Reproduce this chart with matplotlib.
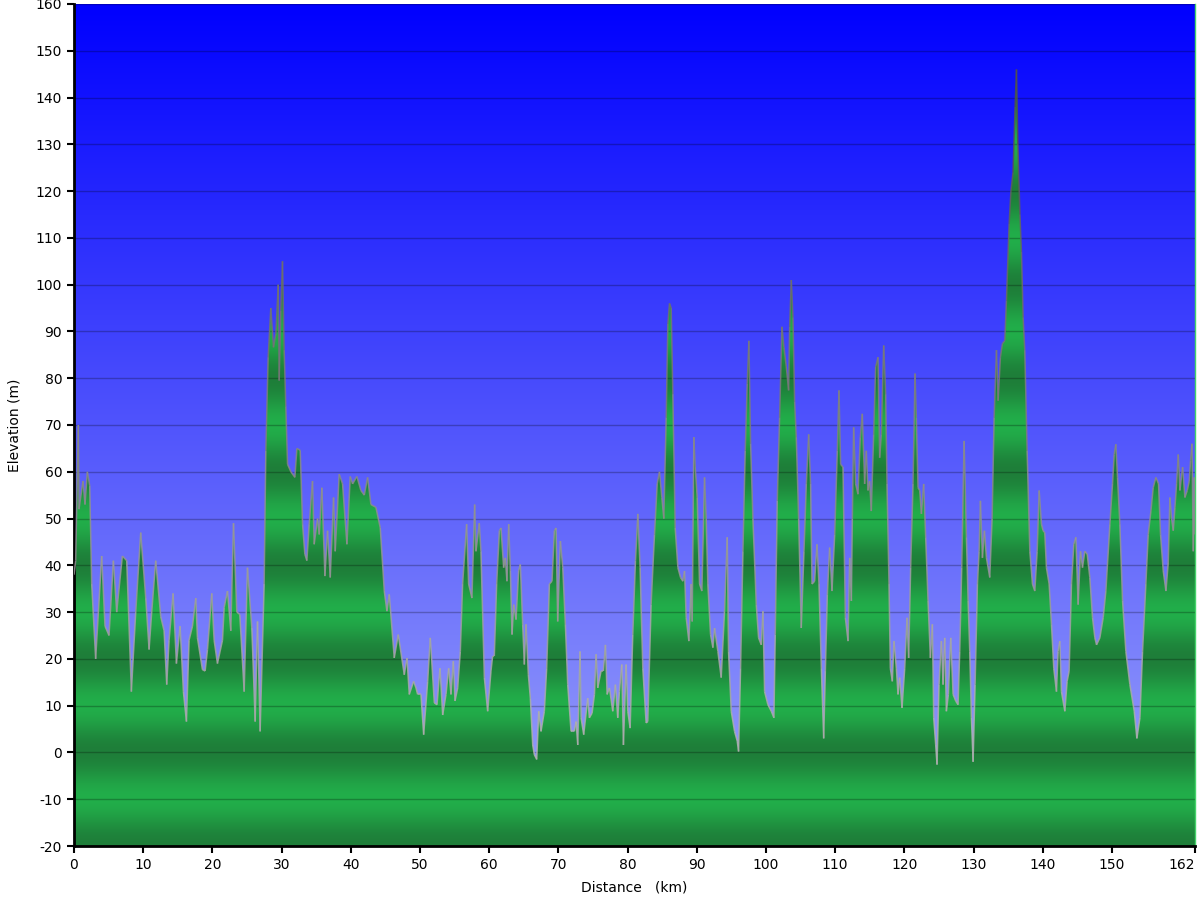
import matplotlib.pyplot as plt
import numpy as np
from matplotlib.patches import Polygon
from matplotlib.collections import LineCollection

plt.rcParams['axes.unicode_minus'] = False

# elevation profile (km, m)
distance_km = [
    0, 0.24, 0.63, 0.72, 1.30, 1.59, 1.93, 2.27, 2.56, 3.13, 4.0, 4.48, 5.06, 5.69, 6.17, 6.99,
    7.62, 8.29, 8.92, 9.64, 10.37, 10.85, 11.23, 11.81, 12.54, 13.02, 13.40, 13.74, 14.32, 14.80,
    15.33, 15.81, 16.25, 16.63, 17.12, 17.60, 17.84, 18.56, 18.95, 19.29, 19.91, 20.25, 20.73,
    21.46, 21.70, 22.18, 22.66, 23.05, 23.53, 23.96, 24.59, 25.07, 25.70, 26.18, 26.52, 26.90,
    27.48, 27.72, 28.06, 28.44, 28.83, 29.17, 29.51, 29.65, 29.89, 30.13, 30.37, 30.61, 30.86,
    31.34, 31.92, 32.21, 32.69, 33.03, 33.36, 33.65, 33.99, 34.47, 34.71, 35.19, 35.44, 35.82,
    36.26, 36.64, 37.03, 37.51, 37.75, 38.33, 38.81, 39.44, 39.92, 40.26, 40.88, 41.46, 41.95,
    42.43, 42.91, 43.63, 44.26, 44.84, 45.22, 45.56, 46.28, 46.86, 47.73, 48.12, 48.45, 49.08,
    49.42, 49.66, 50.14, 50.53, 51.11, 51.49, 52.07, 52.46, 52.89, 53.28, 53.76, 54.14, 54.48,
    54.82, 55.06, 55.45, 55.83,
    56.16, 56.74, 57.03, 57.51, 57.90, 58.09, 58.57, 58.81, 59.30, 59.78, 60.26, 60.50, 60.74,
    61.08, 61.47, 61.71, 62.09, 62.33, 62.57, 62.82, 63.06, 63.30, 63.54, 63.88, 64.26, 64.50,
    64.84, 65.08, 65.32, 65.66, 65.95, 66.29, 66.53, 66.87, 67.16, 67.49, 67.97, 68.31, 68.70,
    69.08, 69.42, 69.66, 69.90, 70.29, 70.63, 71.01, 71.35, 71.83, 72.31, 72.56, 72.80, 73.13,
    73.28, 73.66, 74.24, 74.48, 74.87, 75.21, 75.45, 75.69, 76.17, 76.51, 76.80, 77.04, 77.38,
    77.86, 78.24, 78.58, 78.82, 79.16, 79.40, 79.79, 80.03, 80.37, 80.75, 81.14, 81.48, 81.81,
    82.20, 82.68, 82.92, 83.40, 83.89,
    84.28, 84.61, 84.95, 85.24, 85.58, 85.82, 86.06, 86.30, 86.54, 86.88, 87.27, 87.65, 87.99,
    88.23, 88.47, 88.86, 89.19, 89.34, 89.58, 89.77, 90.06, 90.40, 90.74, 91.12, 91.36, 91.60,
    91.99, 92.33, 92.57, 93.05, 93.53, 94.01, 94.40, 94.59, 94.98, 95.46, 95.85, 96.04, 96.33,
    96.67, 97.00, 97.29, 97.53, 97.78, 98.11, 98.60, 98.93, 99.32, 99.56, 99.80, 100.28, 100.77,
    101.15, 101.34, 101.63, 101.97, 102.31, 102.60, 102.94, 103.27, 103.42, 103.66, 103.90,
    104.14, 104.38, 104.72, 105.10, 105.49, 105.83, 106.17, 106.45, 106.65, 107.03, 107.37,
    107.66, 108.0, 108.34, 108.58, 108.87, 109.20, 109.54, 109.93, 110.31, 110.55, 110.79,
    111.13, 111.47, 111.86, 112.10, 112.34,
    112.48, 112.67, 112.96, 113.30, 113.63, 113.92, 114.26, 114.50, 114.74, 114.98, 115.22,
    115.56, 115.85, 116.19, 116.43, 116.67, 117.01, 117.30, 117.49, 117.78, 117.97, 118.26,
    118.50, 118.84, 119.08, 119.32, 119.66, 120.05, 120.38, 120.62, 120.91, 121.25, 121.54,
    121.73, 121.97, 122.22, 122.46, 122.79, 123.08, 123.42, 123.76, 124.05, 124.24, 124.53,
    124.72, 125.01, 125.35, 125.59, 125.83, 126.07, 126.36, 126.70, 127.04, 127.42, 127.76,
    128.0, 128.29, 128.63, 128.97, 129.21, 129.45, 129.69, 129.93, 130.22, 130.56, 130.80,
    130.99, 131.28, 131.57, 131.86, 132.34, 132.68, 132.97, 133.31, 133.55, 133.88, 134.17,
    134.51, 134.75, 135.14, 135.4, 135.7, 136.0, 136.2, 136.4, 136.7, 136.92, 137.16, 137.40,
    137.74, 138.13, 138.51, 138.85, 139.19, 139.48,
    139.81, 140.05, 140.29, 140.53, 140.92, 141.26, 141.59, 141.98, 142.22, 142.46, 142.70,
    143.19, 143.52, 143.81, 144.15, 144.49, 144.78, 145.11, 145.45, 145.74, 146.08, 146.42,
    146.80, 147.19, 147.53, 147.77, 148.25, 148.73, 149.12, 149.70, 150.08, 150.32, 150.56,
    150.80, 151.14, 151.53, 152.01, 152.59, 153.22, 153.60, 154.04, 154.42, 154.90, 155.24,
    155.63, 155.96, 156.35, 156.73, 157.02, 157.41, 157.80, 158.13, 158.37, 158.62, 158.86,
    159.10, 159.34, 159.58, 159.82, 160.21, 160.54, 160.88, 161.17, 161.36, 161.56, 161.75,
    161.89, 162.0,
]
elevation_m = [
    38, 41, 70, 52, 58, 53, 60, 57, 36, 20, 42, 27, 25, 41, 30, 42,
    41, 13, 30, 47, 33, 22, 30, 41, 29, 26, 14.5, 24, 34, 19,
    27, 13, 6.6, 24, 27, 33, 24.5, 17.7, 17.4, 22, 34, 24, 19,
    24, 31, 34.5, 26, 49, 30, 29.5, 13, 39.5, 26.6, 6.6, 28, 4.5,
    36, 64.5, 84.5, 95, 86.6, 89.5, 100, 79.5, 94.5, 105, 86, 74, 61.6,
    60, 58.8, 65, 64.6, 48.8, 42.4, 41, 48.8, 58, 44.5, 50, 46.6, 56.6,
    37.7, 47.4, 37.4, 54.5, 43, 59.5, 57.4, 44.5, 59, 57.4, 59, 56, 55,
    58.8, 53, 52.4, 48, 34.5, 30.2, 33.8, 20.2, 25.2, 16.6, 20.2, 12.4, 15.2,
    13.8, 12.4, 12.4, 3.8, 15.2, 24.5, 10.6, 10.2, 18, 8, 12.4, 18, 12.4,
    19.5, 11, 13.8, 21.6,
    36, 48.8, 36, 33, 53, 43, 49, 43, 16, 8.8, 17.4, 20.6, 20.6,
    36, 47.4, 48, 39.5, 41.6, 36.6, 48.8, 38.8, 25.2, 31.6, 28.4, 38.8, 40.2,
    27.4, 18.8, 27.4, 16.6, 11.6, 1.6, -0.5, -1.5, 8.8, 4.5, 8.8, 18, 36,
    36.6, 47.4, 48, 28, 45.2, 39.5, 27.4, 14.5, 4.5, 4.5, 6.6, 1.6, 21.6,
    7.4, 3.8, 11.6, 7.4, 8.4, 12.4, 21, 13.8, 17.4, 17.4, 23, 12.4, 13.8,
    8.8, 14.5, 7.4, 13, 18.8, 1.6, 18.8, 8.8, 5.2, 25.2, 41, 51, 39.5,
    18, 6.3, 6.6, 31.6, 46.6,
    57.4, 60, 54.5, 50, 71.6, 91.6, 96, 95, 76.6, 48, 39.5, 37.4, 36.6,
    38.8, 28.8, 23.8, 36, 28, 67.4, 61, 54.5, 36, 34.5, 58.8, 50, 36,
    25.2, 22.4, 26.6, 21.6, 16, 30.2, 46, 21.6, 8.8, 4.5, 2.4, 0.2, 18,
    43, 64.5, 78.8, 88, 66, 50, 31.6, 24.5, 23, 30.2, 13, 10.2, 8.8,
    7.4, 25.2, 53.8, 71.6, 91, 86.6, 82.4, 77.4, 91, 101, 93,
    75, 67.4, 50, 26.6, 43, 57.4, 68, 57.4, 36, 36.6, 44.5,
    36, 18, 3, 17.4, 33.8, 43.8, 34.5, 46.6, 64.5, 77.4, 61.6,
    61, 28.8, 23.8, 41.6, 32.4,
    50, 69.5, 57.4, 55.2, 67.4, 72.4, 57.4, 64.5, 56, 58, 51.6,
    68, 82.4, 84.5, 63, 68, 87, 76.6, 57.4, 36, 18, 15.2,
    23.8, 18, 12.4, 16, 9.5, 18, 28.8, 20.2, 39.5, 57.4, 81,
    71.6, 56.6, 56, 51, 57.4, 46, 32.4, 20.2, 27.4, 7.4, 1.6,
    -2.6, 14.5, 23.8, 14.5, 24.5, 8.8, 12.4, 24.5, 12.4, 11, 10.2,
    21.6, 39.5, 66.6, 46, 32.4, 21.6, 7.4, -2, 14.5, 36, 43,
    53.8, 41.6, 47.4, 41.6, 37.4, 50, 71.6, 86, 75.2, 84.5, 87.4,
    88, 96.6, 113, 120, 124, 138, 146, 130, 115, 107, 93, 86,
    64.5, 43, 36, 34.5, 43, 56,
    48.8, 47.4, 47, 39.5, 36, 27.4, 18, 13, 21.6, 23.8, 13,
    8.8, 15.2, 17.4, 36, 44.5, 46, 31.6, 43, 39.5, 43, 42.4,
    37.4, 28.8, 24.5, 23, 24.5, 28.8, 34.5, 48.8, 57.4, 63.7, 65.9,
    58.8, 48.8, 32.4, 21.6, 14.5, 8.8, 3, 7.4, 21.6, 36, 46.6,
    51.6, 56.6, 58.8, 57.4, 46.6, 38.8, 34.5, 40.5, 54.5, 50, 47.4,
    52.4, 57.4, 63.7, 56, 61, 54.5, 56, 58, 62.4, 66, 43,
    58.8, 46.6,
]
x_ticks = [0, 10, 20, 30, 40, 50, 60, 70, 80, 90, 100, 110, 120, 130, 140, 150, 162]
y_ticks = list(range(-20, 161, 10))

x = np.array(distance_km)
y = np.array(elevation_m)
xmin, xmax, ymin, ymax = 0, 162, -20, 160

fig = plt.figure(figsize=(12, 9), dpi=100)
ax = fig.add_axes([74 / 1200, 1 - 846 / 900, (1195 - 74) / 1200, (846 - 4) / 900])

# sky gradient
lev = np.linspace(ymax, ymin, 400)
f = (ymax - lev) / (ymax - ymin)
top = np.array([0, 0, 255]) / 255
bot = np.array([160, 168, 250]) / 255
sky = (top[None, :] * (1 - f[:, None]) + bot[None, :] * f[:, None])[:, None, :]
ax.imshow(sky, extent=[xmin, xmax, ymin, ymax], aspect='auto', zorder=0, interpolation='bilinear')

# banded green fill, clipped to the profile
t = 0.5 - 0.5 * np.cos(2 * np.pi * lev / 20)
dark = np.array([30, 126, 57]) / 255
bright = np.array([34, 174, 74]) / 255
grn = (dark[None, :] * (1 - t[:, None]) + bright[None, :] * t[:, None])[:, None, :]
verts = [(x[0], ymin)] + list(zip(x, y)) + [(x[-1], ymin)]
poly = Polygon(verts, closed=True, facecolor='none', edgecolor='none')
ax.add_patch(poly)
im = ax.imshow(grn, extent=[xmin, xmax, ymin, ymax], aspect='auto', zorder=1, interpolation='bilinear')
im.set_clip_path(poly)

# profile outline, greyer low and darker high
pts = np.column_stack([x, y])
segs = np.stack([pts[:-1], pts[1:]], axis=1)
mid = (y[:-1] + y[1:]) / 2
g = np.clip(0.70 - 0.40 * mid / 145, 0.28, 0.72)
lc = LineCollection(segs, colors=np.column_stack([g, g, g, np.full_like(g, 0.85)]),
                    linewidths=1.1, zorder=3)
ax.add_collection(lc)

ax.set_xlim(xmin, xmax)
ax.set_ylim(ymin, ymax)
ax.set_xticks(x_ticks)
ax.set_yticks(y_ticks)
ax.set_axisbelow(False)
ax.yaxis.grid(True, color='black', alpha=0.25, linewidth=1)
ax.xaxis.grid(False)

ax.spines['top'].set_visible(False)
ax.spines['right'].set_color('#44d46a')
ax.spines['right'].set_linewidth(1)
ax.spines['left'].set_linewidth(2)
ax.spines['bottom'].set_linewidth(2)
ax.tick_params(direction='out', length=5, width=1.5, labelsize=10, colors='black')
ax.get_xticklabels()[-1].set_horizontalalignment('right')

ax.set_xlabel('Distance   (km)', fontsize=10, labelpad=6)
ax.set_ylabel('Elevation (m)', fontsize=10, labelpad=10)

plt.savefig('out.png', dpi=100)
